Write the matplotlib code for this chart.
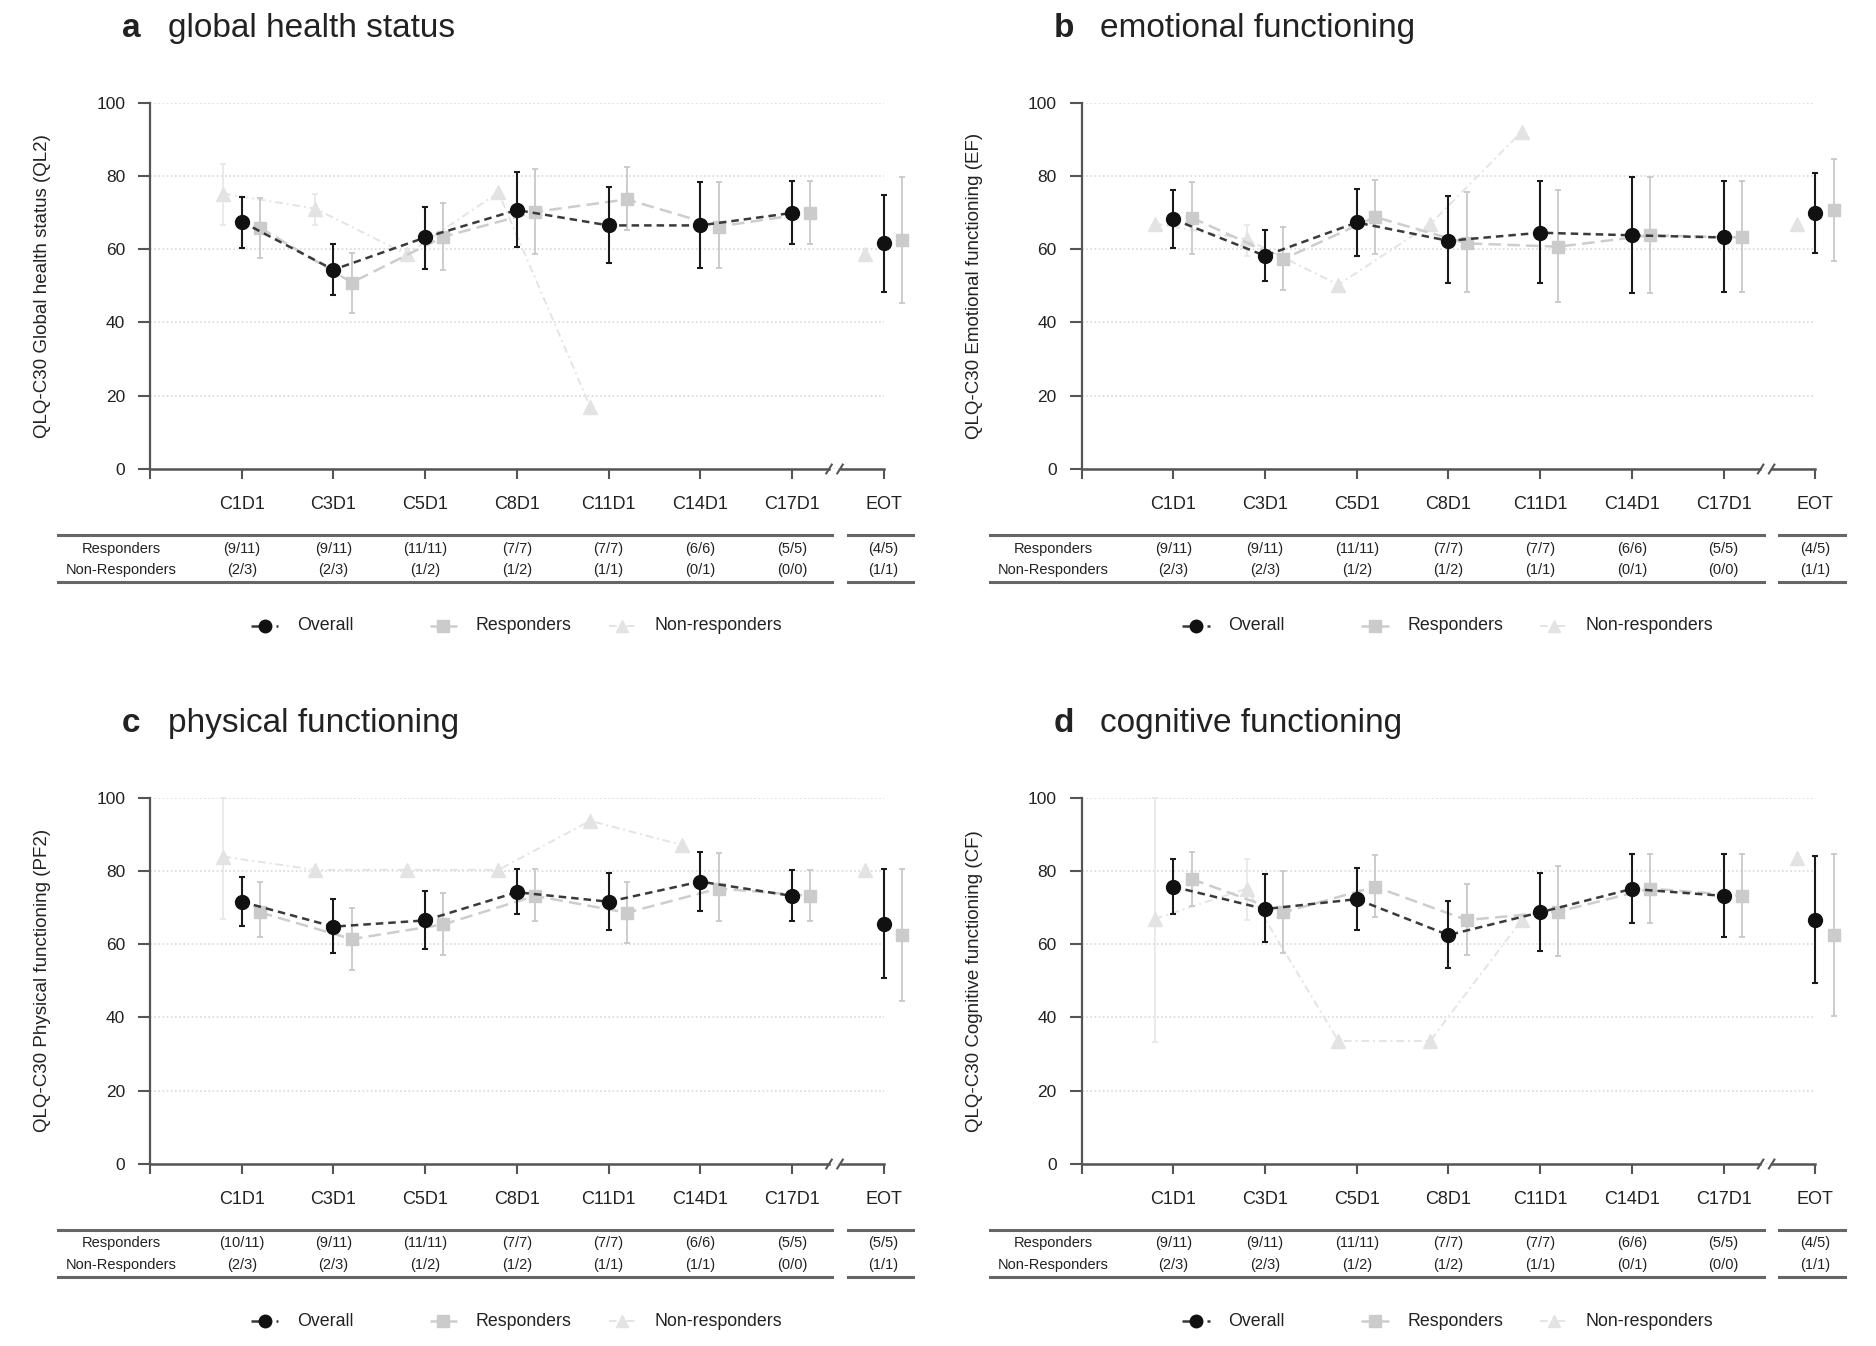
import numpy as np
import matplotlib
matplotlib.use("Agg")
import matplotlib.pyplot as plt
import matplotlib.transforms as mtransforms
from matplotlib.lines import Line2D

plt.rcParams['font.family'] = ['Liberation Sans', 'DejaVu Sans']

nan = np.nan

# ---------------- data ----------------
categories = ['C1D1', 'C3D1', 'C5D1', 'C8D1', 'C11D1', 'C14D1', 'C17D1', 'EOT']

# a: global health status (QL2)
ql2_overall = [67.5, 54.4, 63.2, 70.7, 66.5, 66.5, 69.9, 61.6]
ql2_overall_lo = [60.3, 47.5, 54.7, 60.7, 56.3, 55.0, 61.4, 48.3]
ql2_overall_hi = [74.3, 61.5, 71.6, 81.1, 77.0, 78.4, 78.6, 74.9]
ql2_resp = [65.9, 50.9, 63.4, 70.2, 73.6, 66.2, 69.9, 62.5]
ql2_resp_lo = [57.5, 42.7, 54.4, 58.6, 65.2, 55.0, 61.4, 45.2]
ql2_resp_hi = [73.9, 58.9, 72.7, 81.8, 82.5, 78.4, 78.6, 79.7]
ql2_non = [75.2, 71.1, 58.6, 75.5, 17.0, nan, nan, 58.6]
ql2_non_lo = [66.5, 66.6, nan, nan, nan, nan, nan, nan]
ql2_non_hi = [83.2, 75.0, nan, nan, nan, nan, nan, nan]
ql2_resp_n = ['(9/11)', '(9/11)', '(11/11)', '(7/7)', '(7/7)', '(6/6)', '(5/5)', '(4/5)']
ql2_non_n = ['(2/3)', '(2/3)', '(1/2)', '(1/2)', '(1/1)', '(0/1)', '(0/0)', '(1/1)']

# b: emotional functioning (EF)
ef_overall = [68.2, 58.2, 67.3, 62.3, 64.5, 63.8, 63.2, 69.8]
ef_overall_lo = [60.2, 51.4, 58.2, 50.7, 50.7, 48.0, 48.2, 59.1]
ef_overall_hi = [76.1, 65.2, 76.5, 74.4, 78.6, 79.8, 78.6, 80.7]
ef_resp = [68.6, 57.3, 68.8, 61.6, 60.7, 63.8, 63.2, 70.6]
ef_resp_lo = [58.6, 48.8, 58.8, 48.4, 45.5, 48.0, 48.2, 56.8]
ef_resp_hi = [78.4, 66.1, 78.8, 75.6, 76.2, 79.8, 78.6, 84.5]
ef_non = [67.0, 62.7, 50.3, 66.8, 92.1, nan, nan, 67.0]
ef_non_lo = [nan, 58.2, nan, nan, nan, nan, nan, nan]
ef_non_hi = [nan, 66.6, nan, nan, nan, nan, nan, nan]
ef_resp_n = ['(9/11)', '(9/11)', '(11/11)', '(7/7)', '(7/7)', '(6/6)', '(5/5)', '(4/5)']
ef_non_n = ['(2/3)', '(2/3)', '(1/2)', '(1/2)', '(1/1)', '(0/1)', '(0/0)', '(1/1)']

# c: physical functioning (PF2)
pf_overall = [71.6, 64.8, 66.5, 74.2, 71.6, 77.1, 73.2, 65.5]
pf_overall_lo = [65.0, 57.5, 58.7, 68.2, 63.8, 69.2, 66.4, 50.7]
pf_overall_hi = [78.3, 72.3, 74.6, 80.4, 79.5, 85.1, 80.3, 80.4]
pf_resp = [68.7, 61.4, 65.4, 73.2, 68.6, 75.2, 73.2, 62.5]
pf_resp_lo = [62.0, 53.0, 57.0, 66.4, 60.2, 66.4, 66.4, 44.5]
pf_resp_hi = [76.9, 70.0, 74.0, 80.4, 77.1, 84.8, 80.3, 80.4]
pf_non = [83.9, 80.3, 80.3, 80.3, 93.7, 87.1, nan, 80.3]
pf_non_lo = [66.8, nan, nan, nan, nan, nan, nan, nan]
pf_non_hi = [100.0, nan, nan, nan, nan, nan, nan, nan]
pf_resp_n = ['(10/11)', '(9/11)', '(11/11)', '(7/7)', '(7/7)', '(6/6)', '(5/5)', '(5/5)']
pf_non_n = ['(2/3)', '(2/3)', '(1/2)', '(1/2)', '(1/1)', '(1/1)', '(0/0)', '(1/1)']

# d: cognitive functioning (CF)
cf_overall = [75.7, 69.6, 72.3, 62.5, 68.7, 75.1, 73.2, 66.6]
cf_overall_lo = [68.2, 60.5, 63.8, 53.4, 58.2, 65.7, 62.0, 49.3]
cf_overall_hi = [83.4, 79.1, 80.9, 71.9, 79.5, 84.5, 84.6, 84.2]
cf_resp = [77.8, 68.7, 75.7, 66.6, 68.9, 75.2, 73.2, 62.5]
cf_resp_lo = [70.5, 57.5, 67.3, 57.0, 56.8, 65.7, 62.0, 40.5]
cf_resp_hi = [85.1, 80.0, 84.4, 76.4, 81.4, 84.5, 84.6, 84.6]
cf_non = [66.9, 75.2, 33.6, 33.6, 66.6, nan, nan, 83.6]
cf_non_lo = [33.4, 66.6, nan, nan, nan, nan, nan, nan]
cf_non_hi = [100.0, 83.4, nan, nan, nan, nan, nan, nan]
cf_resp_n = ['(9/11)', '(9/11)', '(11/11)', '(7/7)', '(7/7)', '(6/6)', '(5/5)', '(4/5)']
cf_non_n = ['(2/3)', '(2/3)', '(1/2)', '(1/2)', '(1/1)', '(0/1)', '(0/0)', '(1/1)']

panel_letters = ['a', 'b', 'c', 'd']
panel_titles = ['global health status', 'emotional functioning',
                'physical functioning', 'cognitive functioning']
ylabels = ['QLQ-C30 Global health status (QL2)', 'QLQ-C30 Emotional functioning (EF)',
           'QLQ-C30 Physical functioning (PF2)', 'QLQ-C30 Cognitive functioning (CF)']
series_names = ['Overall', 'Responders', 'Non-responders']
row_names = ['Responders', 'Non-Responders']
yticks = [0, 20, 40, 60, 80, 100]

panels = [
    (ql2_overall, ql2_overall_lo, ql2_overall_hi, ql2_resp, ql2_resp_lo, ql2_resp_hi,
     ql2_non, ql2_non_lo, ql2_non_hi, ql2_resp_n, ql2_non_n),
    (ef_overall, ef_overall_lo, ef_overall_hi, ef_resp, ef_resp_lo, ef_resp_hi,
     ef_non, ef_non_lo, ef_non_hi, ef_resp_n, ef_non_n),
    (pf_overall, pf_overall_lo, pf_overall_hi, pf_resp, pf_resp_lo, pf_resp_hi,
     pf_non, pf_non_lo, pf_non_hi, pf_resp_n, pf_non_n),
    (cf_overall, cf_overall_lo, cf_overall_hi, cf_resp, cf_resp_lo, cf_resp_hi,
     cf_non, cf_non_lo, cf_non_hi, cf_resp_n, cf_non_n),
]

# ---------------- styling ----------------
W, H = 1876, 1346
fig = plt.figure(figsize=(W / 100, H / 100), dpi=100)

UNIT = 91.7          # px per category step
YH = 366.3           # px for 0..100
origins = [(150.0, 469.0), (1081.6, 469.0), (150.0, 1164.0), (1081.6, 1164.0)]

TXT = '#222222'
AX = '#555555'

styles = [
    dict(off=0.0, color='#111111', lcolor='#3a3a3a', ecolor='#1a1a1a', marker='o', ms=10,
         dashes=(3, 2), lw=1.8, elw=1.5, cap=2.5, z=5),
    dict(off=0.2, color='#cbcbcb', lcolor='#cdcdcd', ecolor='#c8c8c8', marker='s', ms=9,
         dashes=(5, 2.5), lw=1.8, elw=1.3, cap=2.0, z=4),
    dict(off=-0.2, color='#e3e3e3', lcolor='#e4e4e4', ecolor='#e6e6e6', marker='^', ms=10,
         dashes=(4, 2, 1, 2), lw=1.4, elw=1.2, cap=2.0, z=3),
]

x = np.arange(1, len(categories) + 1)

for i, (data, (sx, y0)) in enumerate(zip(panels, origins)):
    (ov, ov_lo, ov_hi, rs, rs_lo, rs_hi, nr, nr_lo, nr_hi, rn, nn) = data
    ax = fig.add_axes([sx / W, 1 - y0 / H, 8 * UNIT / W, YH / H])
    ax.set_xlim(0, 8)
    ax.set_ylim(0, 100)

    for (y, lo, hi), st in zip([(ov, ov_lo, ov_hi), (rs, rs_lo, rs_hi), (nr, nr_lo, nr_hi)], styles):
        y = np.asarray(y, float)
        lo = np.asarray(lo, float)
        hi = np.asarray(hi, float)
        xs = x + st['off']
        # connecting line over the cycle visits (not EOT)
        ax.plot(xs[:7], y[:7], color=st['lcolor'], lw=st['lw'], dashes=st['dashes'],
                zorder=st['z'], clip_on=False)
        m = ~np.isnan(lo)
        if m.any():
            ax.errorbar(xs[m], y[m], yerr=[y[m] - lo[m], hi[m] - y[m]], fmt='none',
                        ecolor=st['ecolor'], elinewidth=st['elw'], capsize=st['cap'],
                        capthick=st['elw'], zorder=st['z'], clip_on=False)
        ax.plot(xs, y, ls='none', marker=st['marker'], ms=st['ms'], color=st['color'],
                mec=st['color'], zorder=st['z'] + 0.5, clip_on=False)

    # axes styling
    for s in ['top', 'right', 'bottom']:
        ax.spines[s].set_visible(False)
    ax.spines['left'].set_color(AX)
    ax.spines['left'].set_linewidth(1.6)
    ax.set_yticks(yticks)
    ax.set_yticklabels([str(v) for v in yticks])
    ax.set_xticks(np.arange(0, 9))
    ax.set_xticklabels([''] + categories)
    ax.tick_params(axis='x', length=7.2, width=1.5, color=AX, pad=12.5, labelsize=13,
                   labelcolor=TXT)
    ax.tick_params(axis='y', length=8.4, width=1.5, color=AX, pad=9.5, labelsize=12.5,
                   labelcolor=TXT)
    ax.yaxis.grid(True, ls=(0, (1, 1.5)), color='#d9d9d9', lw=1.2)
    ax.set_axisbelow(True)
    ax.set_ylabel(ylabels[i], fontsize=13.5, color=TXT, va='center')
    ax.yaxis.set_label_coords((43 - sx + sx - 150 - (sx - 150) * 0) / (8 * UNIT) if False else (43 - 150) / (8 * UNIT), 0.5)

    # broken bottom axis
    ax.axhline(0, xmin=0, xmax=7.40 / 8, color=AX, lw=1.8, clip_on=False, zorder=2)
    ax.axhline(0, xmin=7.53 / 8, xmax=1.0, color=AX, lw=1.8, clip_on=False, zorder=2)
    for bx in (7.405, 7.525):
        ax.plot([bx - 0.03, bx + 0.03], [-1.2, 1.2], color=AX, lw=1.5, clip_on=False)

    # table under the axis
    tr = mtransforms.blended_transform_factory(ax.transData, fig.transFigure)
    fy = lambda dy: 1 - (y0 + dy) / H
    for dy in (66, 113):
        ax.add_line(Line2D([-1.0, 7.44], [fy(dy), fy(dy)], transform=tr, color='#666666',
                           lw=2.2, clip_on=False))
        ax.add_line(Line2D([7.61, 8.32], [fy(dy), fy(dy)], transform=tr, color='#666666',
                           lw=2.2, clip_on=False))
    ax.text(-0.31, fy(79.5), row_names[0], transform=tr, ha='center', va='center',
            fontsize=10.5, color=TXT)
    ax.text(-0.31, fy(100.5), row_names[1], transform=tr, ha='center', va='center',
            fontsize=10.5, color=TXT)
    for xi, a, b in zip(x, rn, nn):
        ax.text(xi, fy(79.5), a, transform=tr, ha='center', va='center', fontsize=10.5, color=TXT)
        ax.text(xi, fy(100.5), b, transform=tr, ha='center', va='center', fontsize=10.5, color=TXT)

    # legend (manual, fixed column positions)
    ly = fy(157)
    for k, (st, name) in enumerate(zip(styles, series_names)):
        cx = 1.25 + k * 1.95
        ax.add_line(Line2D([cx - 0.15, cx + 0.15], [ly, ly], transform=tr, color=st['lcolor'],
                           lw=st['lw'], dashes=st['dashes'], clip_on=False))
        ax.add_line(Line2D([cx], [ly], transform=tr, ls='none', marker=st['marker'],
                           ms=st['ms'] - 1, color=st['color'], clip_on=False))
        ax.text(cx + 0.35, ly, name, transform=tr, ha='left', va='center', fontsize=12.8,
                color=TXT)

    # panel title
    fig.text((sx - 28.3) / W, 1 - (37 + (y0 - 469)) / H, panel_letters[i], fontsize=24,
             fontweight='bold', color=TXT, ha='left', va='baseline')
    fig.text((sx + 18.3) / W, 1 - (37 + (y0 - 469)) / H, panel_titles[i], fontsize=24,
             color=TXT, ha='left', va='baseline')

fig.savefig('out.png', dpi=100, facecolor='white')
